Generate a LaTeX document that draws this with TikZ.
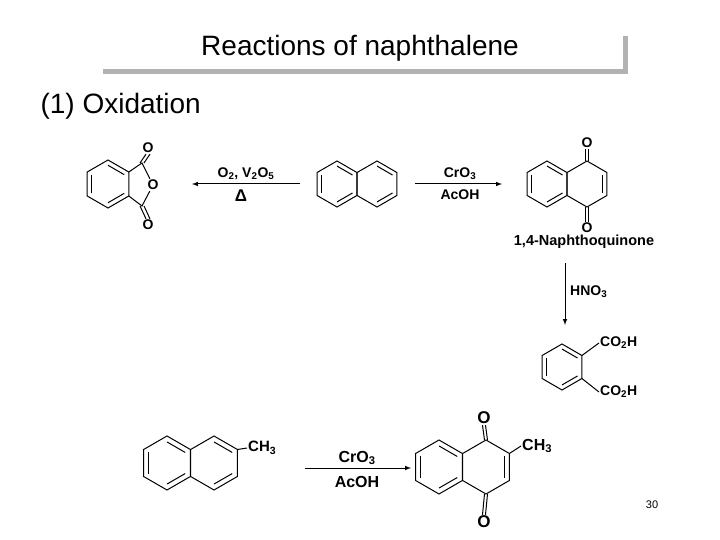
\documentclass[tikz,border=0pt]{standalone}
\usepackage{fontspec}
\setmainfont{Liberation Sans}
\usetikzlibrary{calc}
\tikzset{ bond/.style = { line width = 1pt % skeleton bond
        }
        , lbl/.style = { inner sep = 1pt % atom label
        , font = \bfseries\fontsize{14}{14}\selectfont
        }
        , rxn/.style = { line width = 1pt, -latex % reaction arrow
        }
        }
% ring: name, centre, radius
\newcommand\hexat[3]{%
  \coordinate (#1) at (#2);
  \foreach \a in {30,90,...,330}{\coordinate (#1-\a) at ($(#2)+(\a:#3)$);}
  \draw [bond] (#1-30)--(#1-90)--(#1-150)--(#1-210)--(#1-270)--(#1-330)--cycle;}
% inner line of a double bond: ring, vertex, vertex
\newcommand\dbl[3]{\draw [bond] ($(#1)!0.78!(#1-#2)$) -- ($(#1)!0.78!(#1-#3)$);}
\begin{document}
\begin{tikzpicture}[x=1pt, y=-1pt]
        \useasboundingbox (0,0) rectangle (720,540);
        % title
        \draw [line width=5pt, gray!60] (103,72) -- (625,72) -- (625,36);
        \node (title) at (360,48) {\fontsize{28}{28}\selectfont Reactions of naphthalene};
        \node [anchor=west] (sect) at (37,106) {\fontsize{28}{28}\selectfont (1) Oxidation};
        \node (page) at (652,505) {\fontsize{11}{11}\selectfont 30};

        % naphthalene
        \hexat{n1}{337,184}{23} \hexat{n2}{377,184}{23}
        \dbl{n1}{150}{210} \dbl{n1}{270}{330} \dbl{n1}{30}{90}
        \dbl{n2}{270}{330} \dbl{n2}{30}{90}

        % phthalic anhydride
        \hexat{a}{108,184}{24}
        \dbl{a}{150}{210} \dbl{a}{270}{330} \dbl{a}{30}{90}
        \coordinate (c1) at (142,163);
        \coordinate (c2) at (142,206);
        \node [lbl] (oa) at (153,185) {O};
        \node [lbl] (oa1) at (148,148) {O};
        \node [lbl] (oa2) at (148,225) {O};
        \draw [bond] (a-330) -- (c1) -- (oa) -- (c2) -- (a-30);
        \draw [bond] ([xshift=-2pt]c1) -- ([xshift=-2pt]oa1.south);
        \draw [bond] ([xshift=2pt]c1) -- ([xshift=2pt]oa1.south);
        \draw [bond] ([xshift=-2pt]c2) -- ([xshift=-2pt]oa2.north);
        \draw [bond] ([xshift=2pt]c2) -- ([xshift=2pt]oa2.north);

        % 1,4-naphthoquinone
        \hexat{q1}{547,184}{23} \hexat{q2}{587,184}{23}
        \dbl{q1}{150}{210} \dbl{q1}{270}{330} \dbl{q1}{30}{90}
        \dbl{q2}{330}{30}
        \node [lbl] (oq1) at (587,143) {O};
        \node [lbl] (oq2) at (587,228) {O};
        \draw [bond] ([xshift=-1.5pt]q2-270) -- ([xshift=-1.5pt]oq1.south);
        \draw [bond] ([xshift=1.5pt]q2-270) -- ([xshift=1.5pt]oq1.south);
        \draw [bond] ([xshift=-1.5pt]q2-90) -- ([xshift=-1.5pt]oq2.north);
        \draw [bond] ([xshift=1.5pt]q2-90) -- ([xshift=1.5pt]oq2.north);
        \node [lbl, font=\bfseries\fontsize{14.5}{14}\selectfont] (nq) at (584,242) {1,4-Naphthoquinone};

        % phthalic acid
        \hexat{p}{562,367}{23}
        \dbl{p}{150}{210} \dbl{p}{270}{330} \dbl{p}{30}{90}
        \node [lbl, anchor=west] (ac1) at (599,343) {CO\textsubscript{2}H};
        \node [lbl, anchor=west] (ac2) at (599,392) {CO\textsubscript{2}H};
        \draw [bond] (p-330) -- (ac1.west);
        \draw [bond] (p-30) -- (ac2.west);

        % 2-methylnaphthalene
        \hexat{m1}{167,463}{27} \hexat{m2}{214,463}{27}
        \dbl{m1}{150}{210} \dbl{m1}{270}{330} \dbl{m1}{30}{90}
        \dbl{m2}{270}{330} \dbl{m2}{30}{90}
        \node [lbl, anchor=west, font=\bfseries\fontsize{15}{15}\selectfont] (me1) at (247,448) {CH\textsubscript{3}};
        \draw [bond] (m2-330) -- (me1.west);

        % 2-methyl-1,4-naphthoquinone
        \hexat{b1}{439,467}{27} \hexat{b2}{486,467}{27}
        \dbl{b1}{150}{210} \dbl{b1}{270}{330} \dbl{b1}{30}{90}
        \dbl{b2}{330}{30}
        \node [lbl, font=\bfseries\fontsize{17}{17}\selectfont] (ob1) at (484,418) {O};
        \node [lbl, font=\bfseries\fontsize{17}{17}\selectfont] (ob2) at (484,522) {O};
        \draw [bond] ([xshift=-1.5pt]b2-270) -- ([xshift=-1.5pt]ob1.south);
        \draw [bond] ([xshift=1.5pt]b2-270) -- ([xshift=1.5pt]ob1.south);
        \draw [bond] ([xshift=-1.5pt]b2-90) -- ([xshift=-1.5pt]ob2.north);
        \draw [bond] ([xshift=1.5pt]b2-90) -- ([xshift=1.5pt]ob2.north);
        \node [lbl, anchor=west, font=\bfseries\fontsize{16}{16}\selectfont] (me2) at (521,446) {CH\textsubscript{3}};
        \draw [bond] (b2-330) -- (me2.west);

        % reaction arrows
        \coordinate (t1) at (300,184); \coordinate (t2) at (192,184);
        \draw [rxn] (t1) -- (t2);
        \node [lbl] (r1a) at (246,174) {O\textsubscript{2}, V\textsubscript{2}O\textsubscript{5}};
        \node [lbl, font=\bfseries\fontsize{17}{17}\selectfont] (r1b) at (241,196) {Δ};
        \coordinate (t3) at (415,184); \coordinate (t4) at (502,184);
        \draw [rxn] (t3) -- (t4);
        \node [lbl] (r2a) at (460,174) {CrO\textsubscript{3}};
        \node [lbl] (r2b) at (460,195) {AcOH};
        \coordinate (t5) at (565,263); \coordinate (t6) at (565,325);
        \draw [rxn] (t5) -- (t6);
        \node [lbl, anchor=west] (r3) at (569,292) {HNO\textsubscript{3}};
        \coordinate (t7) at (305,468); \coordinate (t8) at (411,468);
        \draw [rxn] (t7) -- (t8);
        \node [lbl, font=\bfseries\fontsize{16}{16}\selectfont] (r4a) at (357,458) {CrO\textsubscript{3}};
        \node [lbl, font=\bfseries\fontsize{16}{16}\selectfont] (r4b) at (357,482) {AcOH};
\end{tikzpicture}
\end{document}
